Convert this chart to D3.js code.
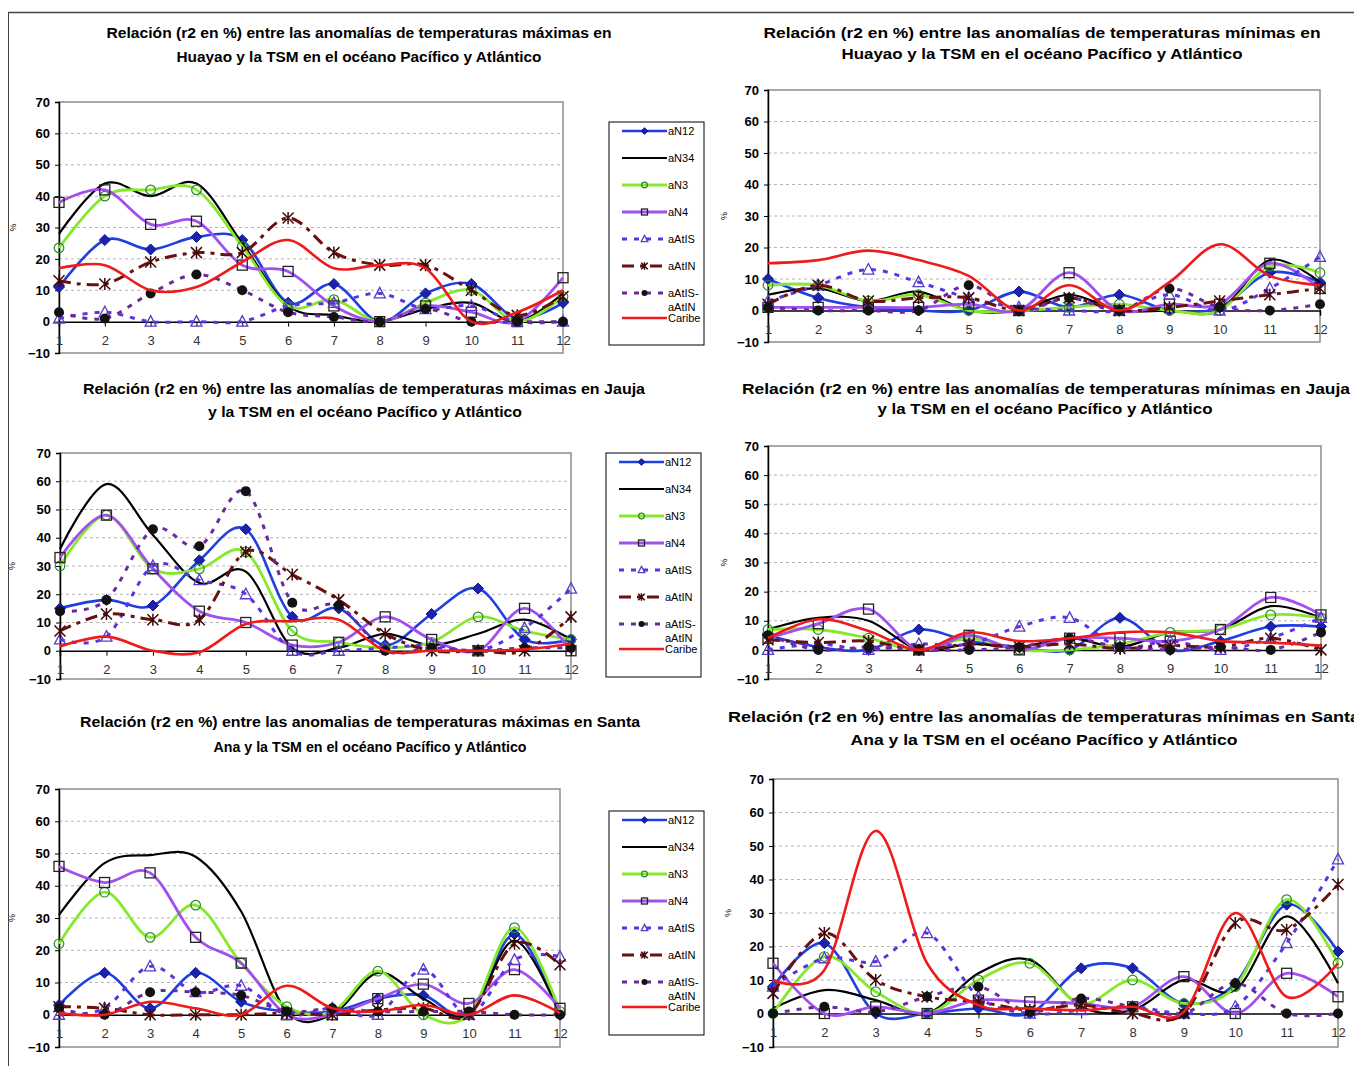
<!DOCTYPE html>
<html>
<head>
<meta charset="utf-8">
<script src="https://cdn.jsdelivr.net/npm/d3@7"></script>
<style>
  body { margin: 0; background: #fff; }
  svg { display: block; font-family: "Liberation Sans", Arial, sans-serif; }
</style>
</head>
<body>
<svg id="chart" width="1354" height="1066"></svg>
<script>
// Months (x categories) and y-axis ticks
const months = [1, 2, 3, 4, 5, 6, 7, 8, 9, 10, 11, 12];
const yTicks = [-10, 0, 10, 20, 30, 40, 50, 60, 70];
const seriesNames = ["aN12", "aN34", "aN3", "aN4", "aAtIS", "aAtIN", "aAtIS-aAtIN", "Caribe"];

// r2 (%) per month, one row per series in seriesNames order
const huayaoMax = [
  [11, 26, 23, 27, 26, 6, 12, 0, 9, 12, 1, 6],
  [28, 44, 40, 44, 25, 5, 2, 0, 4, 6, 0, 9],
  [23.5, 40, 42, 42, 24, 5, 7, 0, 6, 10, 0, 8],
  [38, 42, 31, 32, 18, 16, 5, 0, 5, 3, 0, 14],
  [1, 3, 0, 0, 0, 5, 6, 9, 4, 5, 0, 0],
  [13, 12, 19, 22, 22, 33, 22, 18, 18, 10, 2, 8],
  [3, 1, 9, 15, 10, 3, 1.5, 0, 4, 0, 0, 0],
  [17, 18, 10, 11, 19, 26, 17, 18, 17, 0, 3, 10]
];
const huayaoMin = [
  [10, 4, 1, 0, 0, 6, 1, 5, 0, 1, 12, 9],
  [5, 7, 3, 6, 0, 0, 5, 0, 0, 0, 16, 9],
  [8, 8, 3, 5, 0, 0, 1, 2, 0, 0, 14, 12],
  [1, 1, 1, 1, 2, 0, 12, 0, 2, 2, 15, 7],
  [3, 8, 13, 9, 4, 1, 0, 0, 5, 0, 7, 17],
  [2, 8, 3, 4, 4, 0, 4, 0, 1, 3, 5, 7],
  [1, 0, 0, 0, 8, 0, 4, 0, 7, 1, 0, 2],
  [15, 16, 19, 16, 11, 0, 8, 0, 9, 21, 11, 8]
];
const jaujaMax = [
  [15, 18, 16, 32, 43, 12, 15, 2, 13, 22, 4, 4],
  [36, 59, 41, 24, 28, 1, 1, 6, 2, 6, 11, 4],
  [30, 48, 29, 29, 35, 7, 3, 1, 3, 12, 7, 4],
  [33, 48, 29, 14, 10, 2, 3, 12, 4, 0, 15, 0],
  [4, 5, 30, 25, 20, 0, 0, 1, 2, 0, 8, 22],
  [7, 13, 11, 11, 35, 27, 18, 6, 0, 0, 0, 12],
  [14, 18, 43, 37, 56.5, 17, 16, 0, 1, 0, 1, 1],
  [1.5, 5, 0, -0.5, 9.5, 10.5, 11, 0, 0, 0, 0.5, 2.5]
];
const jaujaMin = [
  [5, 1, 0, 7, 3, 1, 0, 11, 0, 3, 8, 8],
  [7, 11, 10, 0, 2, 1, 4, 1, 6, 7, 15, 11],
  [7, 7, 4, 0, 4, 0, 0, 2, 6, 7, 12, 11],
  [4, 9, 14, 0, 5, 0, 4, 4, 3, 7, 18, 12],
  [0, 2, 0, 2, 2, 8, 11, 1, 3, 0, 4, 11],
  [3.5, 2.5, 3, 0, 2, 1, 2, 0.5, 1.5, 1, 4, 0],
  [5, 0, 1, 0, 0, 1, 4, 1, 0, 1, 0, 6],
  [4, 10.5, 6.5, 0, 6, 3, 4, 6, 6, 3, 2.5, 1.5]
];
const santaAnaMax = [
  [3, 13, 2, 13, 4, 1, 1, 5, 6, 0, 25, 0],
  [31, 47, 49.5, 49, 32, 1, 0, 13, 5, 0, 23, 0],
  [22, 38, 24, 34, 16, 2.5, 1, 13.5, 0, 0, 27, 1],
  [46, 41, 44, 24, 16, 0, 0, 5, 9.5, 3.5, 14, 2],
  [0, 2, 15, 7, 9, 0, 2, 0, 14, 0, 17, 18],
  [2.5, 2, 0, 0, 0, 0.5, 0, 1.5, 2, 0, 22, 15.5],
  [2, 0, 7, 7, 6, 1, 2, 1, 1, 1, 0, 0],
  [0.5, 0, 4, 2, 0, 9, 2, 1, 3, 0, 6, 0.5]
];
const santaAnaMin = [
  [8, 21, 0, 0, 1.5, 0, 13.5, 13.5, 3, 9, 32.5, 18.5],
  [1.5, 7, 4, 0, 12, 16, 2, 1, 10, 7, 29, 9],
  [0, 17, 6.5, 0, 10, 15, 3, 10, 3, 8, 34, 15],
  [15, 0, 2, 0, 4, 3.5, 3, 2, 11, 0, 12, 5],
  [8, 16.5, 15.5, 24, 5, 0, 1, 2, 0, 2, 21, 46],
  [6, 24, 10, 5, 3.5, 1, 2.5, 0, 0, 27, 25, 38.5],
  [0, 2, 0.5, 5, 8, 0.5, 4.5, 2, 0, 9, 0, 0],
  [10, 13, 54.5, 15, 2.5, 1.5, 1, 2, 0.5, 30, 5, 15]
];

// Line and marker style for each series
const styles = [
  { color: "#1f3fe0", width: 2.6, dash: null, marker: "diamond" },
  { color: "#000000", width: 2.2, dash: null, marker: null },
  { color: "#86e82c", width: 2.8, dash: null, marker: "circleOpen" },
  { color: "#a24ff0", width: 2.8, dash: null, marker: "square" },
  { color: "#5a33e4", width: 3, dash: "5,7", marker: "triangle" },
  { color: "#6b1010", width: 3, dash: "12,6,4,6", marker: "star" },
  { color: "#6a2a9c", width: 3, dash: "5,7", marker: "dot" },
  { color: "#ee1b1b", width: 2.6, dash: null, marker: null }
];

// Panel layout: plot box, title lines and legend placement
const panels = [
  { data: huayaoMax, l: 59, r: 563, t: 102, b: 353, pctX: 16,
    title: ["Relación (r2 en %) entre las anomalías de  temperaturas máximas en",
            "Huayao y la TSM en el océano Pacífico y Atlántico"],
    tx: [359, 359], ty: [38, 62], tw: [505, 365], legend: { x: 609, y: 122, h: 223 } },
  { data: huayaoMin, l: 768, r: 1320, t: 90, b: 342, pctX: 727,
    title: ["Relación (r2 en %) entre las anomalías de  temperaturas mínimas en",
            "Huayao y la TSM en el océano Pacífico y Atlántico"],
    tx: [1042, 1042], ty: [38, 59], tw: [557, 401], legend: null },
  { data: jaujaMax, l: 60, r: 571, t: 453, b: 679, pctX: 15,
    title: ["Relación (r2 en %) entre las anomalías de  temperaturas máximas en Jauja",
            "y la TSM en el océano Pacífico y Atlántico"],
    tx: [364, 365], ty: [394, 417], tw: [562, 314], legend: { x: 606, y: 453, h: 224 } },
  { data: jaujaMin, l: 768, r: 1321, t: 446, b: 679, pctX: 727,
    title: ["Relación (r2 en %) entre las anomalías de  temperaturas mínimas en Jauja",
            "y la TSM en el océano Pacífico y Atlántico"],
    tx: [1046, 1045], ty: [394, 414], tw: [608, 335], legend: null },
  { data: santaAnaMax, l: 59, r: 560, t: 789, b: 1047, pctX: 15,
    title: ["Relación (r2 en %) entre las anomalias de  temperaturas máximas en Santa",
            "Ana y la TSM en el océano Pacífico y Atlántico"],
    tx: [360, 370], ty: [727, 752], tw: [560, 313], legend: { x: 609, y: 811, h: 224 } },
  { data: santaAnaMin, l: 773, r: 1338, t: 779, b: 1047, pctX: 731,
    title: ["Relación (r2 en %) entre las anomalías de  temperaturas mínimas en Santa",
            "Ana y la TSM en el océano Pacífico y Atlántico"],
    tx: [1044, 1044], ty: [722, 745], tw: [632, 387], legend: null }
];

const svg = d3.select("#chart");

// Outer frame lines
svg.append("line").attr("x1", 8).attr("x2", 1354).attr("y1", 12.5).attr("y2", 12.5)
  .attr("stroke", "#444").attr("stroke-width", 1.5);
svg.append("line").attr("x1", 8.5).attr("x2", 8.5).attr("y1", 12).attr("y2", 1066)
  .attr("stroke", "#444").attr("stroke-width", 1);

function drawMarker(g, type, x, y, s) {
  if (!type) return;
  if (type === "diamond") {
    g.append("path")
      .attr("d", `M${x},${y - 5.5 * s}L${x + 5.5 * s},${y}L${x},${y + 5.5 * s}L${x - 5.5 * s},${y}Z`)
      .attr("fill", "#1a22b0").attr("stroke", "#0e1490").attr("stroke-width", 1);
  } else if (type === "circleOpen") {
    g.append("circle").attr("cx", x).attr("cy", y).attr("r", 4.8 * s)
      .attr("fill", "none").attr("stroke", "#2a8a2a").attr("stroke-width", 1.2);
  } else if (type === "square") {
    g.append("rect").attr("x", x - 5 * s).attr("y", y - 5 * s)
      .attr("width", 10 * s).attr("height", 10 * s)
      .attr("fill", "none").attr("stroke", "#222").attr("stroke-width", 1.3);
  } else if (type === "triangle") {
    g.append("path")
      .attr("d", `M${x},${y - 6 * s}L${x + 5.5 * s},${y + 4.5 * s}L${x - 5.5 * s},${y + 4.5 * s}Z`)
      .attr("fill", "none").attr("stroke", "#5a3cc8").attr("stroke-width", 1.3);
  } else if (type === "star") {
    const k = 5.5 * s;
    g.append("path")
      .attr("d", `M${x - k},${y - k}L${x + k},${y + k}M${x + k},${y - k}L${x - k},${y + k}M${x},${y - k * 1.1}L${x},${y + k * 1.1}`)
      .attr("fill", "none").attr("stroke", "#3c0808").attr("stroke-width", 1.5);
  } else if (type === "dot") {
    g.append("circle").attr("cx", x).attr("cy", y).attr("r", 5 * s).attr("fill", "#121212");
  }
}

panels.forEach(p => {
  const g = svg.append("g");
  const x = d3.scaleLinear().domain([1, 12]).range([p.l, p.r]);
  const y = d3.scaleLinear().domain([-10, 70]).range([p.b, p.t]);

  // Titles
  p.title.forEach((line, i) => {
    g.append("text").attr("x", p.tx[i]).attr("y", p.ty[i])
      .attr("text-anchor", "middle").attr("font-size", 14).attr("font-weight", "bold")
      .attr("textLength", p.tw[i]).attr("lengthAdjust", "spacingAndGlyphs")
      .text(line);
  });

  // Dashed gridlines
  g.selectAll(".grid").data(yTicks.filter(v => v > 0 && v < 70)).enter()
    .append("line")
    .attr("x1", p.l).attr("x2", p.r)
    .attr("y1", d => y(d)).attr("y2", d => y(d))
    .attr("stroke", "#b4b4b4").attr("stroke-width", 1).attr("stroke-dasharray", "3,3");

  // Plot area frame
  g.append("rect").attr("x", p.l).attr("y", p.t)
    .attr("width", p.r - p.l).attr("height", p.b - p.t)
    .attr("fill", "none").attr("stroke", "#8c8c8c").attr("stroke-width", 1.5);

  // Y axis
  const yAxis = d3.axisLeft(y).tickValues(yTicks).tickSize(4).tickPadding(5);
  const ya = g.append("g").attr("transform", `translate(${p.l},0)`).call(yAxis);
  ya.select(".domain").attr("stroke", "#000").attr("stroke-width", 1.5);
  ya.selectAll("text").attr("font-size", 13).attr("font-weight", "bold")
    .attr("font-family", "Liberation Sans, Arial, sans-serif").attr("fill", "#000");

  // X axis drawn at y = 0
  const xAxis = d3.axisBottom(x).tickValues(months).tickSize(5).tickPadding(9)
    .tickFormat(d3.format("d"));
  const xa = g.append("g").attr("transform", `translate(0,${y(0)})`).call(xAxis);
  xa.select(".domain").attr("stroke", "#000").attr("stroke-width", 1.5);
  xa.selectAll("text").attr("font-size", 13)
    .attr("font-family", "Liberation Sans, Arial, sans-serif").attr("fill", "#333");

  // "%" axis title
  g.append("text").attr("transform", `translate(${p.pctX},${(p.t + p.b) / 2}) rotate(-90)`)
    .attr("text-anchor", "middle").attr("font-size", 9).text("%");

  // Series lines and markers
  const line = d3.line().x((d, i) => x(months[i])).y(d => y(d))
    .curve(d3.curveCardinal.tension(0));
  p.data.forEach((vals, si) => {
    const st = styles[si];
    g.append("path").attr("d", line(vals))
      .attr("fill", "none").attr("stroke", st.color)
      .attr("stroke-width", st.width)
      .attr("stroke-dasharray", st.dash)
      .attr("stroke-linejoin", "round");
    const mg = g.append("g");
    vals.forEach((v, i) => drawMarker(mg, st.marker, x(months[i]), y(v), 1));
  });

  // Legend
  if (p.legend) {
    const L = p.legend;
    const lg = g.append("g");
    lg.append("rect").attr("x", L.x).attr("y", L.y).attr("width", 95).attr("height", L.h)
      .attr("fill", "#fff").attr("stroke", "#000").attr("stroke-width", 1);
    seriesNames.forEach((name, si) => {
      const st = styles[si];
      const ly = si < 7 ? L.y + 9 + si * 27 : L.y + 196;
      const x1 = L.x + 13, x2 = L.x + 58;
      lg.append("line").attr("x1", x1).attr("x2", x2).attr("y1", ly).attr("y2", ly)
        .attr("stroke", st.color).attr("stroke-width", st.width)
        .attr("stroke-dasharray", st.dash);
      drawMarker(lg, st.marker, (x1 + x2) / 2, ly, 0.6);
      const tx = L.x + 59;
      if (name === "aAtIS-aAtIN") {
        lg.append("text").attr("x", tx).attr("y", ly + 4).attr("font-size", 11).text("aAtIS-");
        lg.append("text").attr("x", tx).attr("y", ly + 18).attr("font-size", 11).text("aAtIN");
      } else {
        lg.append("text").attr("x", tx).attr("y", ly + 4).attr("font-size", 11).text(name);
      }
    });
  }
});
</script>
</body>
</html>
